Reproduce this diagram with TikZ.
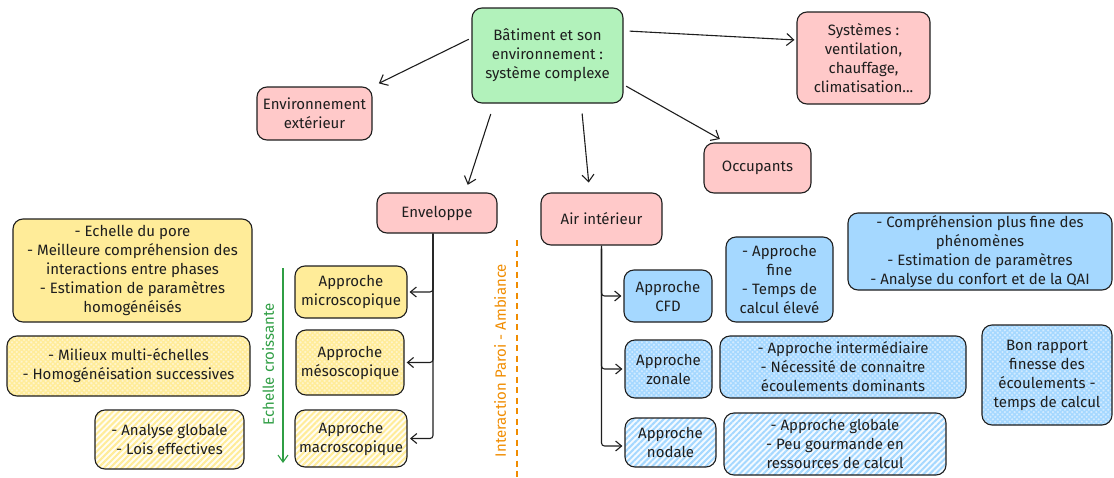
\documentclass[tikz,border=0pt]{standalone}
\usepackage{fontspec}
\setmainfont{Fira Sans}
\usetikzlibrary{arrows.meta,patterns.meta,calc}
\definecolor{pinkc}{HTML}{FFC9C9}
\definecolor{greenc}{HTML}{B2F2BB}
\definecolor{yellowc}{HTML}{FFEC99}
\definecolor{bluec}{HTML}{A5D8FF}
\definecolor{ink}{HTML}{1E1E1E}
\definecolor{greenline}{HTML}{2F9E44}
\definecolor{orangeline}{HTML}{F08C00}
\tikzset{
  box/.style={draw=ink, line width=1.1pt, rounded corners=10pt, align=center, inner sep=1pt,
    font=\fontsize{15}{19}\selectfont, text=ink},
  sz/.style 2 args={minimum width=#1pt, minimum height=#2pt},
  pinkbox/.style={box, fill=pinkc},
  greenbox/.style={box, fill=greenc},
  ysolid/.style={box, fill=yellowc},
  ycross/.style={box, preaction={fill=yellowc!50}, pattern={Hatch[angle=45,distance=3.4pt,line width=1.4pt]}, pattern color=yellowc},
  yhach/.style={box, preaction={fill=yellowc!12}, pattern={Lines[angle=45,distance=4.2pt,line width=2pt]}, pattern color=yellowc},
  bsolid/.style={box, fill=bluec},
  bcross/.style={box, preaction={fill=bluec!50}, pattern={Hatch[angle=45,distance=3.4pt,line width=1.4pt]}, pattern color=bluec},
  bhach/.style={box, preaction={fill=bluec!12}, pattern={Lines[angle=45,distance=4.2pt,line width=2pt]}, pattern color=bluec},
  arr/.style={draw=ink, line width=1.1pt, -{Straight Barb[length=7pt,width=12pt,line width=1.1pt]}},
  tarr/.style={draw=ink, line width=1.1pt, rounded corners=3pt, -{Straight Barb[length=6pt,width=10pt,line width=1.1pt]}, shorten >=2pt},
  sidelabel/.style={rotate=90, font=\fontsize{15}{17}\selectfont},
}
\begin{document}
\begin{tikzpicture}[x=1pt,y=-1pt]
\useasboundingbox (0,0) rectangle (1114,477);
% top level
\node[greenbox, sz={151}{95}] (main) at (547.5,55.5) {Bâtiment et son\\environnement :\\système complexe};
\node[pinkbox, sz={115}{53}] (ext) at (314.5,113.5) {Environnement\\extérieur};
\node[pinkbox, sz={133}{92}] (sys) at (863.5,58) {Systèmes :\\ventilation,\\chauffage,\\climatisation...};
\node[pinkbox, sz={107}{50}] (occ) at (757.5,168) {Occupants};
\node[pinkbox, sz={120}{40}] (env) at (437,213) {Enveloppe};
\node[pinkbox, sz={121}{52}] (air) at (601.5,219) {Air intérieur};
% enveloppe branch
\node[ysolid, sz={112}{52}] (micro) at (351,292) {Approche\\microscopique};
\node[ycross, sz={108}{65}] (meso) at (350,362.5) {Approche\\mésoscopique};
\node[yhach, sz={112}{57}] (macro) at (351,438.5) {Approche\\macroscopique};
\node[ysolid, sz={239}{103}] (d1) at (132.5,270.5) {- Echelle du pore\\- Meilleure compréhension des\\interactions entre phases\\- Estimation de paramètres\\homogénéisés};
\node[ycross, sz={243}{60}] (d2) at (128.5,366) {- Milieux multi-échelles\\- Homogénéisation successives};
\node[yhach, sz={149}{59}] (d3) at (169.5,439.5) {- Analyse globale\\- Lois effectives};
% air branch
\node[bsolid, sz={88}{52}] (cfd) at (668,296) {Approche\\CFD};
\node[bcross, sz={87}{58}] (zon) at (668.5,369) {Approche\\zonale};
\node[bhach, sz={91}{49}] (nod) at (670.5,442.5) {Approche\\nodale};
\node[bsolid, sz={107}{85}] (cfdd) at (779.5,279.5) {- Approche\\fine\\- Temps de\\calcul élevé};
\node[bsolid, sz={264}{77}] (big) at (980,251.5) {- Compréhension plus fine des\\phénomènes\\- Estimation de paramètres\\- Analyse du confort et de la QAI};
\node[bcross, sz={246}{62}] (zond) at (843,367) {- Approche intermédiaire\\- Nécessité de connaitre\\écoulements dominants};
\node[bcross, sz={130}{100}] (bon) at (1047,375) {Bon rapport\\finesse des\\écoulements -\\temps de calcul};
\node[bhach, sz={222}{62}] (nodd) at (835,444) {- Approche globale\\- Peu gourmande en\\ressources de calcul};
% main connectors
\draw[arr, shorten <=3pt, shorten >=7pt] (main.167) -- (ext.north east);
\draw[arr, shorten <=6pt, shorten >=2pt] (main.18) -- (sys.165);
\draw[arr, shorten <=3pt, shorten >=7pt] (main.-21) -- (occ.141);
\draw[arr, shorten <=11pt, shorten >=8pt] (main.222) -- (env.36);
\draw[arr, shorten <=10pt, shorten >=10pt] (main.-55) -- (air.114);
% tree connectors
\draw[tarr] ([xshift=-4pt]env.south) |- (micro.east);
\draw[tarr] ([xshift=-4pt]env.south) |- (meso.east);
\draw[tarr] ([xshift=-4pt]env.south) |- (macro.east);
\draw[tarr] ([yshift=-3pt]air.south) |- (cfd.west);
\draw[tarr] ([yshift=-3pt]air.south) |- (zon.west);
\draw[tarr] ([xshift=0pt]air.south) |- ([yshift=-3.5pt]nod.west);
% scale arrow
\coordinate (g1) at (283,268);
\coordinate (g2) at (283,463);
\draw[draw=greenline, line width=1.1pt, -{Straight Barb[length=7pt,width=10pt,line width=1.1pt]}] (g1) -- (g2);
\node[sidelabel, text=greenline] (lg) at (268,364.5) {Echelle croissante};
% interaction line
\coordinate (o1) at (517,240);
\coordinate (o2) at (517,477);
\draw[draw=orangeline, line width=2pt, dash pattern=on 6pt off 4.5pt] (o1) -- (o2);
\node[sidelabel, text=orangeline] (lo) at (500,360.5) {Interaction Paroi - Ambiance};
\end{tikzpicture}
\end{document}
